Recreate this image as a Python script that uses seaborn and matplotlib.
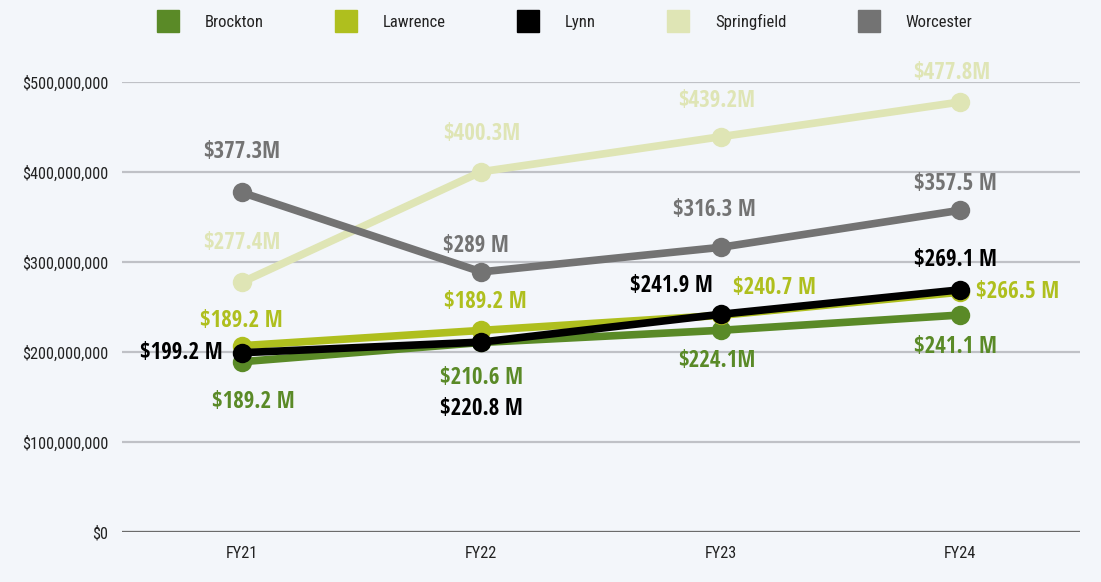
import matplotlib
matplotlib.use("Agg")
import matplotlib.pyplot as plt
from matplotlib.lines import Line2D
from matplotlib.ticker import FuncFormatter
from matplotlib.font_manager import FontProperties
import seaborn as sns
import pandas as pd

# ---- data ----
years = ["FY21", "FY22", "FY23", "FY24"]
cities = ["Brockton", "Lawrence", "Lynn", "Springfield", "Worcester"]
brockton = [189.2e6, 210.6e6, 224.1e6, 241.1e6]
lawrence = [207.0e6, 224.0e6, 240.7e6, 266.5e6]
lynn = [199.2e6, 211.0e6, 241.9e6, 269.1e6]
springfield = [277.4e6, 400.3e6, 439.2e6, 477.8e6]
worcester = [377.3e6, 289.0e6, 316.3e6, 357.5e6]
brockton_labels = ["$189.2 M", "$210.6 M", "$224.1M", "$241.1 M"]
lawrence_labels = ["$189.2 M", "$189.2 M", "$240.7 M", "$266.5 M"]
lynn_labels = ["$199.2 M", "$220.8 M", "$241.9 M", "$269.1 M"]
springfield_labels = ["$277.4M", "$400.3M", "$439.2M", "$477.8M"]
worcester_labels = ["$377.3M", "$289 M", "$316.3 M", "$357.5 M"]
y_ticks = [0, 100e6, 200e6, 300e6, 400e6, 500e6]

series = {"Brockton": brockton, "Lawrence": lawrence, "Lynn": lynn,
          "Springfield": springfield, "Worcester": worcester}
labels = {"Brockton": brockton_labels, "Lawrence": lawrence_labels, "Lynn": lynn_labels,
          "Springfield": springfield_labels, "Worcester": worcester_labels}

colors = {"Brockton": "#5a8a27", "Lawrence": "#afbf1e", "Lynn": "#000000",
          "Springfield": "#dfe5b5", "Worcester": "#737373"}

rows = []
for c in cities:
    for y, v in zip(years, series[c]):
        rows.append({"year": y, "city": c, "value": v})
df = pd.DataFrame(rows)

sns.set_theme(style="white")
plt.rcParams["font.family"] = ["Open Sans Condensed", "Open Sans", "DejaVu Sans"]

BG = "#f3f6fa"
fig = plt.figure(figsize=(11.01, 5.82), dpi=100, facecolor=BG)
ax = fig.add_axes([122/1101, 50/582, (1080-122)/1101, (532-82)/582])
ax.set_facecolor(BG)

sns.lineplot(data=df, x="year", y="value", hue="city", hue_order=cities,
             palette=colors, marker="o", markersize=14, markeredgewidth=0,
             linewidth=5.5, ax=ax, legend=False, sort=False, clip_on=False)

ax.set_xlim(-0.5, 3.5)
ax.set_ylim(0, 500e6)
ax.set_yticks(y_ticks)
ax.yaxis.set_major_formatter(FuncFormatter(lambda v, p: f"${v:,.0f}"))
ax.set_xlabel("")
ax.set_ylabel("")
ax.grid(axis="y", color="#bfc1c6", linewidth=1.6, zorder=0)
ax.set_axisbelow(True)
ax.axhline(0, color="#6b6b6b", linewidth=1.6, zorder=1)
for s in ax.spines.values():
    s.set_visible(False)
ax.tick_params(axis="y", length=0, pad=10, labelcolor="#222222")
ax.tick_params(axis="x", length=0, pad=10, labelcolor="#222222")
fp_tick = FontProperties(family=["Roboto Condensed", "Open Sans"], size=11.7)
for t in ax.get_yticklabels() + ax.get_xticklabels():
    t.set_fontproperties(fp_tick)

# label offsets in pixels (dx, dy) and alignment
offsets = {
    "Brockton": [(12, -40, "center"), (0, -36, "center"), (-4, -31, "center"), (-5, -32, "center")],
    "Lawrence": [(0, 25, "center"), (4, 28, "center"), (12, 27, "left"), (16, 0, "left")],
    "Lynn": [(-19, 0, "right"), (0, -67, "center"), (-8, 28, "right"), (-5, 30, "center")],
    "Springfield": [(0, 39, "center"), (0, 38, "center"), (-4, 36, "center"), (-8, 29, "center")],
    "Worcester": [(0, 40, "center"), (-5, 26, "center"), (-6, 37, "center"), (-5, 26, "center")],
}
for c in cities:
    for i, (v, t) in enumerate(zip(series[c], labels[c])):
        dx, dy, ha = offsets[c][i]
        ax.annotate(t, xy=(i, v), xytext=(dx, dy), textcoords="offset pixels",
                    ha=ha, va="center", fontsize=16.5, fontweight="bold",
                    color=colors[c], annotation_clip=False, zorder=5)

handles = [Line2D([0], [0], marker="s", linestyle="none", markersize=16.5,
                  markerfacecolor=colors[c], markeredgecolor=colors[c]) for c in cities]
leg = fig.legend(handles, cities, loc="center", bbox_to_anchor=(0.513, 0.962), ncol=5,
                 frameon=False, handlelength=1.2, handletextpad=1.6,
                 columnspacing=4.35, labelcolor="#222222",
                 prop=FontProperties(family=["Roboto Condensed", "Open Sans"], size=12))

fig.savefig("out.png", dpi=100, facecolor=BG)
